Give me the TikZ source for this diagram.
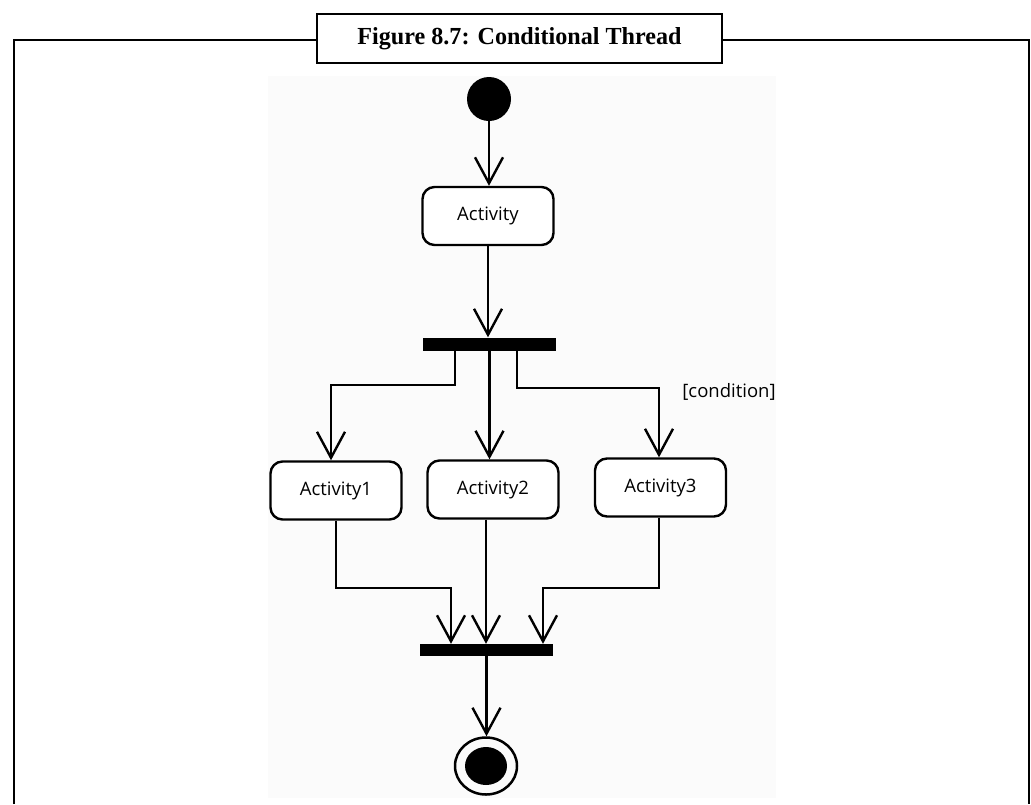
\documentclass[tikz,border=0pt]{standalone}
\usepackage{fontspec}
\setmainfont{Liberation Serif}
\newfontfamily\diagfont{Open Sans}
\usetikzlibrary{arrows.meta,calc,shapes.geometric}

\begin{document}
\begin{tikzpicture}[x=1pt,y=-1pt,
  frameline/.style={line width=2pt},
  activity/.style={draw, line width=2.4pt, rounded corners=12pt,
    minimum width=131pt, minimum height=58pt, inner sep=0pt,
    fill=white, font=\diagfont\fontsize{18.5}{22}\selectfont},
  syncbar/.style={fill=black, minimum width=133pt, minimum height=13pt, inner sep=0pt},
  flow/.style={line width=2.4pt, -{Straight Barb[length=26pt,width=28pt]}},
  guard/.style={font=\diagfont\fontsize{18.5}{22}\selectfont, inner sep=0pt}
]
\useasboundingbox (0,0) rectangle (1031,804);

% light backdrop of the diagram area
\fill[black!1.5] (268,76) rectangle (776,798);

% page frame and caption box
\draw[frameline] (14,804) -- (14,40) -- (1029,40) -- (1029,804);
\node[draw, frameline, fill=white, minimum width=405pt, minimum height=49pt, inner sep=0pt]
  (title) at (519.5,38.5) {\resizebox{324pt}{17pt}{\bfseries Figure 8.7: Conditional Thread}};

% nodes
\node[circle, fill=black, minimum size=44pt, inner sep=0pt] (init) at (489,99) {};
\node[activity] (act) at (488,216) {Activity};
\node[syncbar] (fork) at (489.5,344) {};
\node[activity] (a1) at (336,490.5) {Activity1};
\node[activity] (a2) at (493,489.5) {Activity2};
\node[activity] (a3) at (660.5,487.5) {Activity3};
\node[syncbar, minimum height=12pt] (join) at (486.5,650) {};
\node[ellipse, draw, line width=2.5pt, minimum width=62pt, minimum height=57pt, inner sep=0pt]
  (final) at (486,766) {};
\node[ellipse, fill=black, minimum width=42pt, minimum height=38pt, inner sep=0pt]
  (finaldot) at (final.center) {};

\node[guard] (cond) at (729,392) {[condition]};

% bend points of the routed flows
\coordinate (f1) at (455,385);
\coordinate (f3) at (517,388);
\coordinate (j1) at (336,588);
\coordinate (j3) at (659,588);

% flows
\draw[flow] (init.south) -- (init.south |- act.north);
\draw[flow] (act.south) -- (act.south |- fork.north);
\draw[flow] (f1 |- fork.south) -- (f1) -| (331,0 |- a1.north);
\draw[flow] (fork.south) -- (fork.south |- a2.north);
\draw[flow] (f3 |- fork.south) -- (f3) -| (659,0 |- a3.north);
\draw[flow] (a1.south) -- (j1) -| (451,0 |- join.north);
\draw[flow] (486,0 |- a2.south) -- (486,0 |- join.north);
\draw[flow] (j3 |- a3.south) -- (j3) -| (543,0 |- join.north);
\draw[flow] (join.south) -- (join.south |- final.north);
\end{tikzpicture}
\end{document}
